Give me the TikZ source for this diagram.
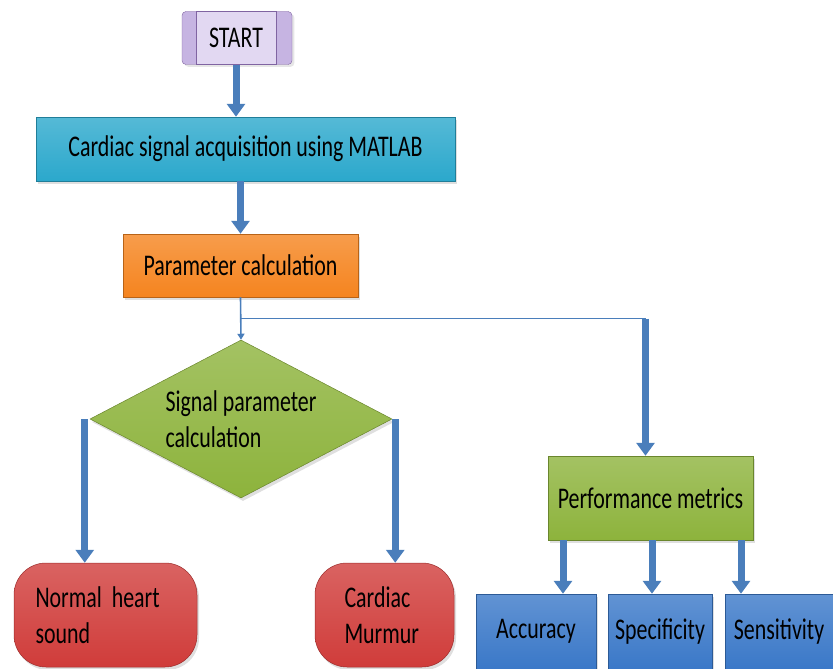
\documentclass[tikz,border=0pt]{standalone}
\usepackage{fontspec}
\setmainfont{Carlito}[FakeStretch=0.73]
\usepackage{tikz}
\usetikzlibrary{arrows.meta,calc,shapes.geometric,shadows}
\definecolor{arrblue}{HTML}{4A7EBB}
\definecolor{arrdark}{HTML}{385D8A}
\definecolor{cyanbox}{HTML}{2BA8CC}
\definecolor{orangebox}{HTML}{F5841F}
\definecolor{greenbox}{HTML}{8DB33C}
\definecolor{redbox}{HTML}{D03C3A}
\definecolor{bluebox}{HTML}{3A78C8}
\definecolor{lilac}{HTML}{C6B4E2}
\definecolor{lilacin}{HTML}{E2D8F2}
\definecolor{lilacdark}{HTML}{8064A2}

\begin{document}
\begin{tikzpicture}[x=1pt,y=-1pt,
  every node/.style={font=\fontsize{30}{36}\selectfont, inner sep=2pt},
  box/.style={draw=#1!75!black, line width=0.5pt, top color=#1!80!white,
    bottom color=#1, drop shadow={opacity=0.25, shadow xshift=2pt, shadow yshift=-3pt}},
  blk/.style={draw=arrblue, line width=7pt, -{Triangle[width=18pt,length=13pt]}},
  thinline/.style={draw=arrblue, line width=1.6pt}]
\useasboundingbox (0,0) rectangle (833,669);

\node[draw=lilacdark, fill=lilac, rounded corners=4pt, minimum width=110pt,
  minimum height=53pt, drop shadow={opacity=0.2}] (startbox) at (237,38) {};
\node[draw=lilacdark, fill=lilacin, minimum width=80pt, minimum height=53pt] (start) at (236,38) {START};

\node[box=cyanbox, minimum width=419pt, minimum height=64pt] (acq) at (245.5,149)
  {Cardiac signal acquisition using MATLAB};
\node[box=orangebox, minimum width=235pt, minimum height=63pt] (param) at (240.5,265.5)
  {Parameter calculation};
\node[box=greenbox, diamond, aspect=1.9, inner sep=0pt, minimum width=302pt,
  minimum height=158pt, align=left] (dia) at (241,419) {Signal parameter\\calculation};
\node[box=redbox, rounded corners=32pt, minimum width=183pt, minimum height=104pt,
  text width=140pt, align=left] (normal) at (105.5,615) {Normal heart\\sound};
\node[box=redbox, rounded corners=32pt, minimum width=139pt, minimum height=104pt,
  text width=80pt, align=left] (murmur) at (384.5,615) {Cardiac\\Murmur};
\node[box=greenbox, minimum width=205pt, minimum height=84pt] (pm) at (650.5,498)
  {Performance metrics};
\node[box=bluebox, minimum width=120pt, minimum height=75pt] (acc) at (536,631.5) {Accuracy};
\node[box=bluebox, minimum width=104pt, minimum height=75pt] (spec) at (660,631.5) {Specificity};
\node[box=bluebox, minimum width=108pt, minimum height=75pt] (sens) at (779,631.5) {Sensitivity};

\draw[blk] (start.south) -- (start.south |- acq.north);
\draw[blk] (param.north |- acq.south) -- (param.north);
\coordinate (br) at ($(param.south)!0.5!(dia.north)$);
\draw[thinline, -{Triangle[width=7pt,length=6pt]}] (param.south) -- (dia.north);
\draw[thinline] (br) -- ([xshift=-5pt]br -| pm.north);
\draw[blk] ([xshift=-5pt]br -| pm.north) -- ([xshift=-5pt]pm.north);
\draw[blk] ([xshift=-5pt]dia.west) -- ([xshift=-5pt]dia.west |- normal.north);
\draw[blk] ([xshift=3pt]dia.east) -- ([xshift=3pt]dia.east |- murmur.north);
\draw[blk] ([xshift=-87.5pt]pm.south) -- ([xshift=-87.5pt]pm.south |- acc.north);
\draw[blk] ([xshift=1.5pt]pm.south) -- ([xshift=1.5pt]pm.south |- spec.north);
\draw[blk] ([xshift=90.5pt]pm.south) -- ([xshift=90.5pt]pm.south |- sens.north);
\end{tikzpicture}
\end{document}
